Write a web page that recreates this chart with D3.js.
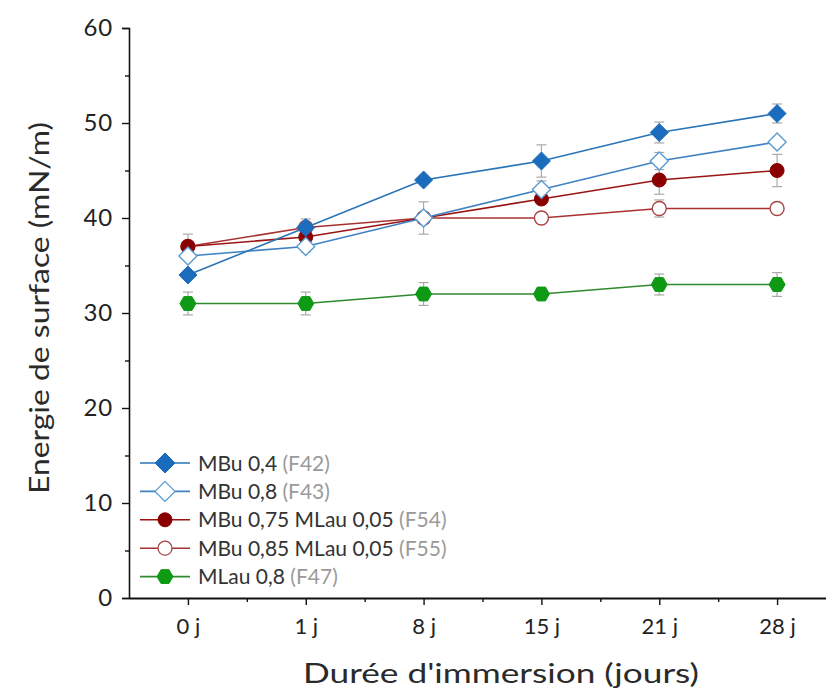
<!DOCTYPE html>
<html>
<head>
<meta charset="utf-8">
<script src="https://cdn.jsdelivr.net/npm/d3@7"></script>
<style>
  html, body { margin: 0; padding: 0; background: #fff; }
  svg { display: block; }
  text { font-family: "Lato", "Open Sans", sans-serif; }
</style>
</head>
<body>
<svg id="chart" width="826" height="690"></svg>
<script>
const categories = ["0 j", "1 j", "8 j", "15 j", "21 j", "28 j"];
const yTicks = [0, 10, 20, 30, 40, 50, 60];
const yMinorTicks = [5, 15, 25, 35, 45, 55];

const seriesNames = ["MBu 0,4", "MBu 0,8", "MBu 0,75 MLau 0,05", "MBu 0,85 MLau 0,05", "MLau 0,8"];
const seriesCodes = ["(F42)", "(F43)", "(F54)", "(F55)", "(F47)"];

const f42 = [34, 39, 44, 46, 49, 51];
const f42err = [0.3, 0.9, 0.4, 1.7, 1.1, 1.0];
const f43 = [36, 37, 40, 43, 46, 48];
const f43err = [0.4, 0.6, 0.5, 0.9, 0.9, 0.5];
const f54 = [37, 38, 40, 42, 44, 45];
const f54err = [1.3, 0.5, 1.7, 0.5, 1.5, 1.7];
const f55 = [37, 39, 40, 40, 41, 41];
const f55err = [0.4, 0.5, 0.5, 0.3, 0.9, 0.3];
const f47 = [31, 31, 32, 32, 33, 33];
const f47err = [1.2, 1.2, 1.2, 0.6, 1.1, 1.25];

const series = [
  { name: seriesNames[0], code: seriesCodes[0], values: f42, errs: f42err, color: "#2a74b8", fill: "#1b6cbc", shape: "diamond", open: false },
  { name: seriesNames[1], code: seriesCodes[1], values: f43, errs: f43err, color: "#3f82c2", fill: "#5a9bd2", shape: "diamond", open: true },
  { name: seriesNames[2], code: seriesCodes[2], values: f54, errs: f54err, color: "#9a1414", fill: "#8a0000", shape: "circle", open: false },
  { name: seriesNames[3], code: seriesCodes[3], values: f55, errs: f55err, color: "#a83232", fill: "#a84444", shape: "circle", open: true },
  { name: seriesNames[4], code: seriesCodes[4], values: f47, errs: f47err, color: "#2e8a2e", fill: "#0f9a16", shape: "hexagon", open: false }
];

const svg = d3.select("#chart");
const x = d3.scaleLinear().domain([-0.5, 5.5]).range([129, 836]);
const y = d3.scaleLinear().domain([0, 60]).range([598, 28]);

function shapePath(shape, r) {
  if (shape === "diamond") {
    return `M0,${-r}L${r},0L0,${r}L${-r},0Z`;
  }
  if (shape === "hexagon") {
    const pts = d3.range(6).map(i => {
      const a = i * Math.PI / 3;
      return [r * Math.cos(a), r * Math.sin(a)];
    });
    return "M" + pts.map(p => p.join(",")).join("L") + "Z";
  }
  return d3.symbol(d3.symbolCircle, Math.PI * r * r)();
}
function markerSize(s) { return s.shape === "diamond" ? 9 : (s.shape === "hexagon" ? 8 : 7); }

// Y axis
const yAxis = svg.append("g").attr("transform", "translate(129,0)")
  .call(d3.axisLeft(y).tickValues(yTicks).tickSize(7).tickPadding(9));
yAxis.select(".domain").attr("stroke", "#111").attr("stroke-width", 1.6);
yAxis.selectAll(".tick line").attr("stroke", "#111").attr("stroke-width", 1.4);
yAxis.selectAll(".tick text").attr("font-size", 24).attr("fill", "#222")
  .attr("letter-spacing", 0.8)
  .style("font-family", "Lato, sans-serif");
const yMinor = svg.append("g").attr("transform", "translate(129,0)")
  .call(d3.axisLeft(y).tickValues(yMinorTicks).tickSize(4).tickFormat(""));
yMinor.select(".domain").remove();
yMinor.selectAll(".tick line").attr("stroke", "#111").attr("stroke-width", 1.4);

// X axis
const xAxis = svg.append("g").attr("transform", "translate(0,598)")
  .call(d3.axisBottom(x).tickValues(d3.range(categories.length)).tickFormat(i => categories[i]).tickSize(7).tickSizeOuter(0).tickPadding(13));
xAxis.select(".domain").attr("stroke", "#111").attr("stroke-width", 1.8);
xAxis.selectAll(".tick line").attr("stroke", "#111").attr("stroke-width", 1.4);
xAxis.selectAll(".tick text").attr("font-size", 22).attr("fill", "#222")
  .style("font-family", "Lato, sans-serif");
const xMinor = svg.append("g").attr("transform", "translate(0,598)")
  .call(d3.axisBottom(x).tickValues([0.5, 1.5, 2.5, 3.5, 4.5]).tickSize(4).tickFormat(""));
xMinor.select(".domain").remove();
xMinor.selectAll(".tick line").attr("stroke", "#111").attr("stroke-width", 1.4);

// Axis titles
svg.append("text").attr("x", 501).attr("y", 683).attr("text-anchor", "middle")
  .attr("font-size", 27).attr("fill", "#2a2a2a")
  .attr("textLength", 396).attr("lengthAdjust", "spacingAndGlyphs")
  .text("Durée d'immersion (jours)");
svg.append("text").attr("transform", "translate(49,308) rotate(-90)").attr("text-anchor", "middle")
  .attr("font-size", 27).attr("fill", "#2a2a2a")
  .attr("textLength", 372).attr("lengthAdjust", "spacingAndGlyphs")
  .text("Energie de surface (mN/m)");

// Error bars
const errG = svg.append("g");
series.forEach(s => {
  s.values.forEach((v, i) => {
    const cx = x(i), e = s.errs[i];
    const g = errG.append("g").attr("stroke", "#a9a9a9").attr("stroke-width", 1.2);
    g.append("line").attr("x1", cx).attr("x2", cx).attr("y1", y(v + e)).attr("y2", y(v - e));
    g.append("line").attr("x1", cx - 5).attr("x2", cx + 5).attr("y1", y(v + e)).attr("y2", y(v + e));
    g.append("line").attr("x1", cx - 5).attr("x2", cx + 5).attr("y1", y(v - e)).attr("y2", y(v - e));
  });
});

// Lines and markers
const line = d3.line().x((d, i) => x(i)).y(d => y(d));
const drawOrder = [4, 3, 2, 1, 0];
drawOrder.forEach(k => {
  const s = series[k];
  svg.append("path").datum(s.values).attr("d", line)
    .attr("fill", "none").attr("stroke", s.color).attr("stroke-width", 1.6);
});
drawOrder.forEach(k => {
  const s = series[k];
  svg.append("g").selectAll("path").data(s.values).join("path")
    .attr("transform", (d, i) => `translate(${x(i)},${y(d)})`)
    .attr("d", shapePath(s.shape, markerSize(s)))
    .attr("fill", s.open ? "#fff" : s.fill)
    .attr("stroke", s.fill)
    .attr("stroke-width", s.open ? 1.4 : 1);
});

// Legend
const legend = svg.append("g");
series.forEach((s, k) => {
  const ly = 463 + k * 28.4;
  legend.append("line").attr("x1", 140).attr("x2", 190).attr("y1", ly).attr("y2", ly)
    .attr("stroke", s.color).attr("stroke-width", 1.6);
  legend.append("path").attr("transform", `translate(165,${ly})`)
    .attr("d", shapePath(s.shape, s.shape === "diamond" ? 10 : markerSize(s)))
    .attr("fill", s.open ? "#fff" : s.fill)
    .attr("stroke", s.fill).attr("stroke-width", s.open ? 1.3 : 1);
  const t = legend.append("text").attr("x", 198).attr("y", ly + 7.5).attr("font-size", 21);
  t.append("tspan").attr("fill", "#333").text(s.name + " ");
  t.append("tspan").attr("fill", "#9a9a9a").text(s.code);
});
</script>
</body>
</html>
